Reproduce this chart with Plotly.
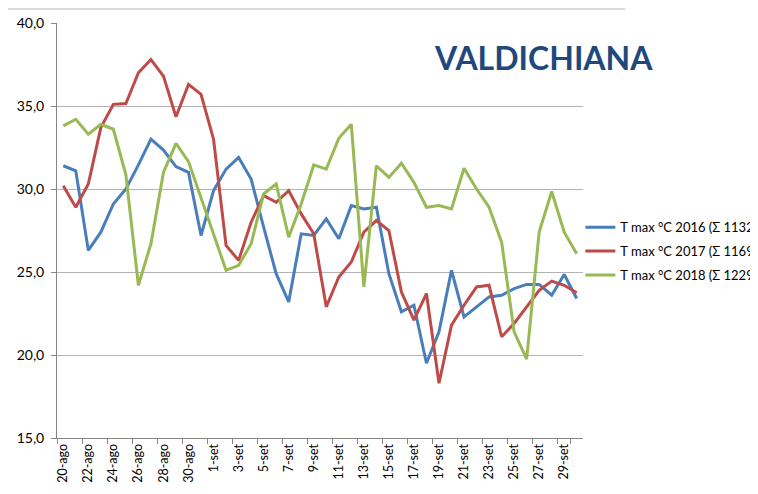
import plotly.graph_objects as go

days = [f"{d}-ago" for d in range(20, 32)] + [f"{d}-set" for d in range(1, 31)]

t2016 = [31.4, 31.1, 26.3, 27.4, 29.1, 30.0, 31.45, 33.0, 32.35, 31.35, 31.0, 27.2,
         29.9, 31.2, 31.9, 30.6, 27.7, 24.9, 23.2, 27.3, 27.2, 28.2, 27.0, 29.0,
         28.8, 28.9, 24.9, 22.6, 23.0, 19.5, 21.4, 25.1, 22.3, 22.9, 23.5, 23.6,
         24.0, 24.25, 24.25, 23.6, 24.85, 23.4]
t2017 = [30.2, 28.9, 30.3, 33.7, 35.1, 35.15, 37.0, 37.8, 36.8, 34.35, 36.3, 35.7,
         33.0, 26.6, 25.7, 28.0, 29.6, 29.2, 29.9, 28.5, 27.3, 22.9, 24.7, 25.6,
         27.4, 28.1, 27.5, 23.8, 22.1, 23.7, 18.3, 21.8, 23.0, 24.1, 24.2, 21.1,
         21.9, 22.9, 23.9, 24.45, 24.2, 23.75]
t2018 = [33.8, 34.2, 33.3, 33.9, 33.6, 30.85, 24.2, 26.7, 31.0, 32.75, 31.65, 29.45,
         27.2, 25.1, 25.4, 26.7, 29.7, 30.3, 27.1, 29.1, 31.45, 31.2, 33.05, 33.9,
         24.1, 31.4, 30.7, 31.55, 30.4, 28.9, 29.0, 28.8, 31.25, 30.0, 28.9, 26.8,
         21.4, 19.75, 27.4, 29.85, 27.4, 26.1]

names = ["T max °C 2016 (Σ 1132)", "T max °C 2017 (Σ 1169)", "T max °C 2018 (Σ 1229)"]
colors = ["#4A7EBB", "#BE4B48", "#98B954"]
series = [t2016, t2017, t2018]

yticks = [15, 20, 25, 30, 35, 40]

fig = go.Figure()
for k, (name, col, vals) in enumerate(zip(names, colors, series)):
    fig.add_trace(go.Scatter(x=days, y=vals, name=name, mode="lines",
                             legendgroup=f"g{k}",
                             line=dict(color=col, width=3)))

FONT = "Lato, 'Liberation Sans', sans-serif"
fig.update_layout(
    width=750, height=486,
    margin=dict(l=49, r=175, t=15, b=56, autoexpand=False),
    paper_bgcolor="white", plot_bgcolor="white",
    separators=",.",
    font=dict(family=FONT, size=12, color="#000000"),
    showlegend=True,
    legend=dict(x=0.995, xanchor="left", y=0.45, yanchor="middle",
                font=dict(size=13, family=FONT), itemwidth=30,
                bgcolor="rgba(0,0,0,0)", tracegroupgap=4),
    xaxis=dict(type="category", range=[-0.5, 41.5], tickmode="array",
               tickvals=days[::2], ticktext=days[::2], tickangle=-90,
               tickson="boundaries", ticks="outside", ticklen=5,
               tickcolor="#868686", showline=True, linecolor="#868686",
               linewidth=1, showgrid=False, tickfont=dict(size=12.5)),
    yaxis=dict(range=[15, 40], tickvals=yticks, tickformat=".1f",
               ticks="outside", ticklen=5, tickcolor="#868686",
               showline=True, linecolor="#868686", linewidth=1,
               showgrid=True, gridcolor="#b3b3b3", gridwidth=1,
               zeroline=False, tickfont=dict(size=14),
               ticklabelstandoff=4),
    annotations=[dict(text="<b>VALDICHIANA</b>", xref="paper", yref="paper",
                      x=0.924, y=0.918, xanchor="center", yanchor="middle",
                      showarrow=False,
                      font=dict(size=32, color="#1F497D", family=FONT))],
    shapes=[dict(type="line", xref="paper", yref="paper",
                 x0=-0.1, x1=1.08, y0=1.034, y1=1.034,
                 line=dict(color="#d9d9d9", width=2))],
)

fig.write_html("out.html")
